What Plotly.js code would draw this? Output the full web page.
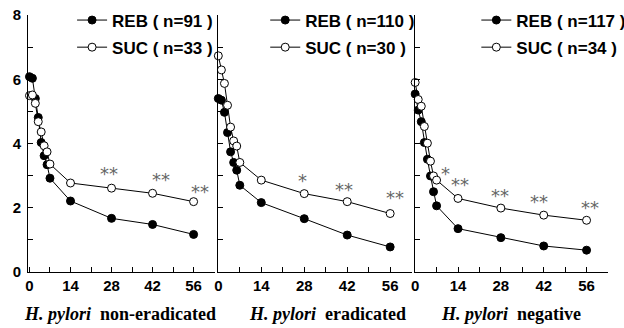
<!DOCTYPE html>
<html><head><meta charset="utf-8">
<script src="https://cdn.plot.ly/plotly-3.0.1.min.js"></script>
<style>html,body{margin:0;padding:0;background:#fff}</style>
</head><body><div id="chart" style="width:624px;height:328px"></div>
<script>
// ---- data ----
const days = [0, 1, 2, 3, 4, 5, 6, 7, 14, 28, 42, 56];
const xTicks = [0, 14, 28, 42, 56];
const yTicks = [0, 2, 4, 6, 8];
const groupNames = ['non-eradicated', 'eradicated', 'negative'];
const rebN = [91, 110, 117];
const sucN = [33, 30, 34];
const reb1 = [6.08, 6.03, 5.40, 4.81, 4.03, 3.62, 3.34, 2.92, 2.21, 1.67, 1.48, 1.17];
const suc1 = [5.49, 5.51, 5.25, 4.68, 4.36, 3.93, 3.74, 3.36, 2.77, 2.61, 2.45, 2.19];
const reb2 = [5.40, 5.35, 4.97, 4.34, 3.74, 3.41, 3.17, 2.70, 2.16, 1.66, 1.15, 0.78];
const suc2 = [6.73, 6.29, 5.87, 5.19, 4.51, 4.08, 3.92, 3.41, 2.86, 2.44, 2.19, 1.82];
const reb3 = [5.54, 5.04, 4.68, 4.03, 3.51, 2.99, 2.50, 2.06, 1.35, 1.07, 0.81, 0.68];
const suc3 = [5.90, 5.37, 5.16, 4.53, 4.01, 3.45, 2.99, 2.86, 2.29, 1.99, 1.77, 1.61];
const sigMarks = [['**', '**', '**'], ['*', '**', '**'], ['*', '**', '**', '**', '**']];

// ---- layout helpers ----
const rebSeries = [reb1, reb2, reb3];
const sucSeries = [suc1, suc2, suc3];
const sigX = [[27.1, 44.9, 58.1], [27.5, 41.0, 57.5], [10.0, 14.7, 27.7, 40.5, 57.1]];
const sigY = [[3.08, 2.89, 2.52], [2.86, 2.58, 2.32], [3.08, 2.73, 2.39, 2.21, 2.0]];
const domains = [[0, 0.3224], [0.3276, 0.662], [0.667, 1]];
const xRanges = [[-0.5, 63.3], [-0.1, 63.1], [-0.1, 63]];
const legendX = [0.076, 0.409, 0.773];
const titleShift = [-1.5, 13, -0.5];

const traces = [];
const layout = {
  width: 624, height: 328,
  margin: {l: 28, r: 16, t: 15, b: 56, autoexpand: false},
  paper_bgcolor: '#fff', plot_bgcolor: '#fff',
  showlegend: true,
  annotations: []
};
const tickFont = {family: 'Liberation Sans, Arial, sans-serif', size: 15, color: '#000', weight: 'bold'};

for (let p = 0; p < 3; p++) {
  const xa = p === 0 ? 'x' : 'x' + (p + 1);
  const ya = p === 0 ? 'y' : 'y' + (p + 1);
  const lg = p === 0 ? 'legend' : 'legend' + (p + 1);
  traces.push({
    x: days, y: rebSeries[p], xaxis: xa, yaxis: ya, legend: lg,
    name: '<b>REB ( n=' + rebN[p] + ' )</b>', legendgroup: 'reb' + p,
    mode: 'lines+markers', cliponaxis: false,
    line: {color: '#000', width: 1},
    marker: {symbol: 'circle', size: 8, color: '#000', line: {color: '#000', width: 1}}
  });
  traces.push({
    x: days, y: sucSeries[p], xaxis: xa, yaxis: ya, legend: lg,
    name: '<b>SUC ( n=' + sucN[p] + ' )</b>', legendgroup: 'suc' + p,
    mode: 'lines+markers', cliponaxis: false,
    line: {color: '#000', width: 1},
    marker: {symbol: 'circle', size: 8, color: '#fff', line: {color: '#000', width: 1}}
  });
  const xKey = p === 0 ? 'xaxis' : 'xaxis' + (p + 1);
  const yKey = p === 0 ? 'yaxis' : 'yaxis' + (p + 1);
  layout[xKey] = {
    domain: domains[p], range: xRanges[p], anchor: ya,
    showgrid: false, zeroline: false, showline: true, linecolor: '#000', linewidth: 1,
    tickmode: 'array', tickvals: xTicks, ticktext: xTicks.map(String),
    ticks: 'inside', ticklen: 5, tickcolor: '#000', tickwidth: 1,
    minor: {dtick: 7, tick0: 0, ticks: 'inside', ticklen: 5, tickcolor: '#000', tickwidth: 1, showgrid: false},
    tickfont: tickFont
  };
  layout[yKey] = {
    domain: [0, 1], range: [0, 8], anchor: xa,
    showgrid: false, zeroline: false, showline: true, linecolor: '#000', linewidth: 1,
    tickmode: 'array', tickvals: yTicks, ticktext: yTicks.map(String),
    showticklabels: p === 0, ticklabelstandoff: 3,
    ticks: 'inside', ticklen: 5, tickcolor: '#000', tickwidth: 1,
    minor: {dtick: 1, tick0: 0, ticks: 'inside', ticklen: 5, tickcolor: '#000', tickwidth: 1, showgrid: false},
    tickfont: tickFont
  };
  layout[lg] = {
    x: legendX[p], xanchor: 'left', y: 1.0486, yanchor: 'top',
    bgcolor: 'rgba(0,0,0,0)', borderwidth: 0,
    traceorder: 'grouped', tracegroupgap: 2,
    font: {family: 'Liberation Sans, Arial, sans-serif', size: 17, color: '#000'}
  };
  layout.annotations.push({
    xref: xa + ' domain', yref: 'paper', x: 0.5, y: -0.163, xanchor: 'center', yanchor: 'middle',
    xshift: titleShift[p], showarrow: false,
    text: '<b><i>H. pylori</i>\u00a0\u00a0' + groupNames[p] + '</b>',
    font: {family: 'Liberation Serif, Times New Roman, serif', size: 18, color: '#000'}
  });
  sigMarks[p].forEach((t, i) => {
    layout.annotations.push({
      xref: xa, yref: ya, x: sigX[p][i], y: sigY[p][i], text: t,
      showarrow: false, yshift: 0,
      font: {family: 'DejaVu Sans, sans-serif', size: 18, color: '#666'}
    });
  });
}

Plotly.newPlot('chart', traces, layout, {staticPlot: true, displayModeBar: false});
</script></body></html>
